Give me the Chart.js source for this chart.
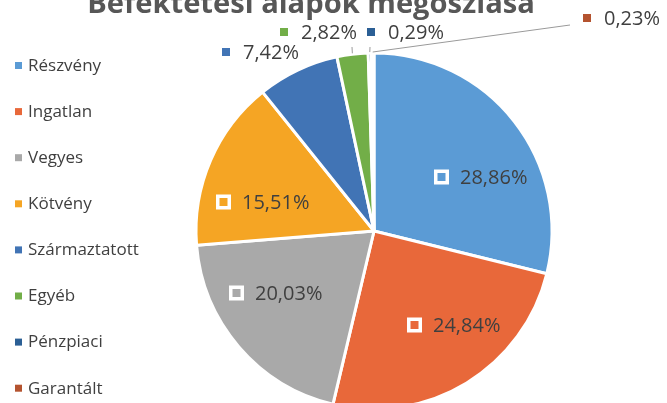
<!DOCTYPE html>
<html lang="hu">
<head>
<meta charset="utf-8">
<title>Befektetési alapok megoszlása</title>
<script src="https://cdn.jsdelivr.net/npm/chart.js@4/dist/chart.umd.min.js"></script>
<style>
    html, body { margin: 0; padding: 0; background: #fff; overflow: hidden; }
    #wrap { position: absolute; left: 0; top: 0; width: 667px; height: 411px; }
</style>
</head>
<body>
<div id="wrap"><canvas id="pie"></canvas></div>
<script>
// --- DATA ---
const chartTitle = 'Befektetési alapok megoszlása';
const categories = ['Részvény', 'Ingatlan', 'Vegyes', 'Kötvény', 'Származtatott', 'Egyéb', 'Pénzpiaci', 'Garantált'];
const shares = [28.86, 24.84, 20.03, 15.51, 7.42, 2.82, 0.29, 0.23];
const sliceColors = ['#5b9bd5', '#e8683a', '#a9a9a9', '#f5a524', '#4174b5', '#72ae48', '#2b5f95', '#b4532f'];

// --- LABEL LAYOUT (offsets from pie centre) ---
// inside labels get the hollow marker, outside ones a small solid square
const labelInside = [true, true, true, true, false, false, false, false];
const labelSpots = [[60, -54], [33, 94], [-145, 62], [-158, -29], [-152, -179], [-94, -199], [-7, -199], [209, -213]];
const leaderEnds = { 5: [-22, -184], 6: [-4, -184], 7: [196, -206] };

const TEXT = '#3f3f3f';
const fmt = v => v.toFixed(2).replace('.', ',') + '%';

const titlePlugin = {
    id: 'scanTitle',
    afterDraw(chart) {
        const ctx = chart.ctx;
        ctx.save();
        let size = 30;
        ctx.font = `bold ${size}px "Open Sans"`;
        size = size * 448 / ctx.measureText(chartTitle).width;
        ctx.font = `bold ${size}px "Open Sans"`;
        ctx.fillStyle = '#575757';
        ctx.textAlign = 'center';
        ctx.textBaseline = 'alphabetic';
        ctx.fillText(chartTitle, 311, 13);
        ctx.restore();
    }
};

const legendPlugin = {
    id: 'sideLegend',
    afterDraw(chart) {
        const ctx = chart.ctx;
        const ds = chart.data.datasets[0];
        ctx.save();
        ctx.font = '17px "Open Sans"';
        ctx.textBaseline = 'middle';
        chart.data.labels.forEach((label, i) => {
            const y = 65 + i * 46.1;
            ctx.fillStyle = ds.backgroundColor[i];
            ctx.fillRect(15, y - 3, 7, 7);
            ctx.fillStyle = TEXT;
            ctx.fillText(label, 28, y + 1);
        });
        ctx.restore();
    }
};

const labelPlugin = {
    id: 'sliceLabels',
    afterDatasetsDraw(chart) {
        const ctx = chart.ctx;
        const ds = chart.data.datasets[0];
        const arcs = chart.getDatasetMeta(0).data;
        const cx = arcs[0].x, cy = arcs[0].y, R = arcs[0].outerRadius;
        ctx.save();

        // leader lines
        ctx.strokeStyle = '#9a9a9a';
        ctx.lineWidth = 1;
        Object.keys(leaderEnds).forEach(k => {
            const a = arcs[k];
            const mid = (a.startAngle + a.endAngle) / 2;
            const sx = cx + Math.cos(mid) * (R + 1);
            const sy = cy + Math.sin(mid) * (R + 1);
            ctx.beginPath();
            ctx.moveTo(sx, sy);
            ctx.lineTo(cx + leaderEnds[k][0], cy + leaderEnds[k][1]);
            ctx.stroke();
        });

        ctx.font = '20px "Open Sans"';
        ctx.textBaseline = 'middle';
        ds.data.forEach((v, i) => {
            const x = cx + labelSpots[i][0];
            const y = cy + labelSpots[i][1];
            let textX;
            if (labelInside[i]) {
                ctx.fillStyle = '#fff';
                ctx.fillRect(x, y - 7.5, 15, 15);
                ctx.fillStyle = ds.backgroundColor[i];
                ctx.fillRect(x + 3.5, y - 4, 8, 8);
                textX = x + 26;
            } else {
                ctx.fillStyle = ds.backgroundColor[i];
                ctx.fillRect(x, y - 4, 8, 8);
                textX = x + 21;
            }
            ctx.fillStyle = TEXT;
            ctx.fillText(fmt(v), textX, y + 1);
        });
        ctx.restore();
    }
};

new Chart(document.getElementById('pie'), {
    type: 'pie',
    data: {
        labels: categories,
        datasets: [{
            data: shares,
            backgroundColor: sliceColors,
            borderColor: '#ffffff',
            borderWidth: 3
        }]
    },
    options: {
        responsive: true,
        maintainAspectRatio: false,
        animation: false,
        events: [],
        radius: 178,
        layout: { padding: { left: 194, right: 113, top: 51, bottom: 0 } },
        plugins: {
            legend: { display: false },
            tooltip: { enabled: false },
            title: { display: false }
        }
    },
    plugins: [titlePlugin, legendPlugin, labelPlugin]
});
</script>
</body>
</html>
